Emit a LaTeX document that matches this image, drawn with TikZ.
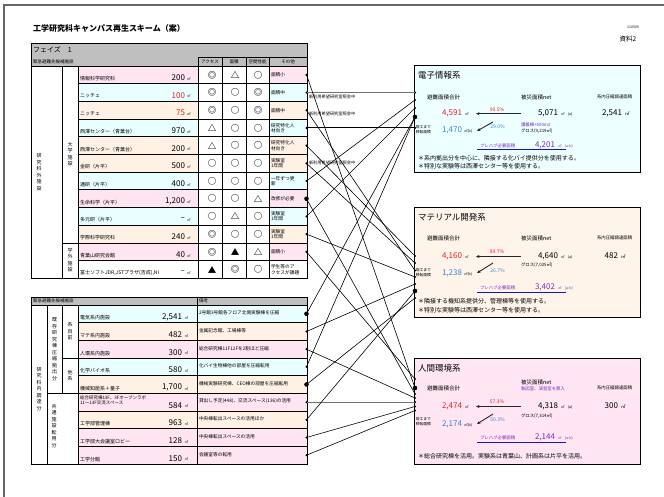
\documentclass[tikz,border=0pt]{standalone}
\usepackage{fontspec}
\setmainfont{Noto Sans CJK JP}
\usetikzlibrary{arrows.meta}
\definecolor{cpink}{HTML}{FFE5F1}
\definecolor{ccyan}{HTML}{E9FFFF}
\definecolor{cpeach}{HTML}{FFF2E5}
\definecolor{cred}{HTML}{E8202A}
\definecolor{cblue}{HTML}{3D7FE0}
\definecolor{cpurple}{HTML}{7A2FC0}
\definecolor{cline}{HTML}{1515C8}
\definecolor{cgray}{HTML}{BFBFBF}
\definecolor{cbox1}{HTML}{EEFFFF}
\definecolor{cbox2}{HTML}{FFF4EA}
\definecolor{cbox3}{HTML}{FFE6F2}
\tikzset{
 mytx/.style={inner sep=0pt, outer sep=0pt},
 mynm/.style={mytx, anchor=west, font=\fontsize{5}{6}\selectfont},
 myval/.style={mytx, anchor=east, font=\fontsize{8}{9}\selectfont},
 myunit/.style={mytx, anchor=west, font=\fontsize{3.5}{4}\selectfont},
 mysym/.style={mytx, font=\fontsize{8.5}{9}\selectfont\bfseries},
 myrem/.style={mytx, anchor=west, align=left, font=\fontsize{4.7}{5.4}\selectfont},
 myvt/.style={mytx, align=center, font=\fontsize{5}{6.5}\selectfont},
 mylab/.style={mytx, anchor=west, font=\fontsize{4.2}{4.6}\selectfont},
 myttl/.style={mytx, anchor=west, font=\fontsize{8.5}{10}\selectfont},
 myhd/.style={mytx, anchor=west, font=\fontsize{5.5}{6.5}\selectfont},
 mysm/.style={mytx, anchor=west, font=\fontsize{4.4}{5}\selectfont},
 mytiny/.style={mytx, anchor=west, align=left, font=\fontsize{3.8}{4.8}\selectfont},
 mybig/.style={mytx, anchor=east, font=\fontsize{8}{9}\selectfont},
 mypct/.style={mytx, font=\fontsize{5}{6}\selectfont},
 mynote/.style={mytx, anchor=west, font=\fontsize{6}{7}\selectfont},
 mydot/.style={circle, fill=black, inner sep=0pt, minimum size=2.4pt},
 mybdot/.style={circle, fill=black, inner sep=0pt, minimum size=4.6pt},
 myconn/.style={line width=0.6pt},
 mygconn/.style={line width=1.3pt, black!55},
 mygrid/.style={line width=0.8pt},
 myarr/.style={-{Stealth[length=3.5pt,width=3pt]}, line width=0.9pt, black!85},
 mybox/.style={line width=0.9pt},
}
% upper table row: idx, fill, name, value, s1, s2, s3, other
\newcommand\urow[8]{%
 \pgfmathsetmacro\rt{66+(#1-1)*17.7}%
 \pgfmathsetmacro\rb{\rt+17.7}%
 \pgfmathsetmacro\rc{\rt+8.85}%
 \fill[#2] (78,\rt) rectangle (198,\rb);
 \fill[#2] (269,\rt) rectangle (307,\rb);
 \node[mynm] (u#1n) at (80,\rt+12.5) {#3};
 \node[myval] (u#1v) at (185,\rt+11.5) {#4};
 \node[myunit] (u#1u) at (187,\rt+12.5) {㎡};
 \node[mysym] (u#1a) at (212,\rc) {#5};
 \node[mysym] (u#1b) at (235,\rc) {#6};
 \node[mysym] (u#1c) at (258,\rc) {#7};
 \node[myrem] (u#1o) at (271,\rc) {#8};
}
% lower table row: idx, fill, name, value, remark
\newcommand\lrow[5]{%
 \pgfmathsetmacro\rt{305+(#1-1)*17.67}%
 \pgfmathsetmacro\rb{\rt+17.67}%
 \pgfmathsetmacro\rc{\rt+8.83}%
 \fill[#2] (78,\rt) rectangle (307,\rb);
 \node[mynm] (l#1n) at (80,\rt+13) {#3};
 \node[myval] (l#1v) at (182,\rt+12) {#4};
 \node[myunit] (l#1u) at (184.5,\rt+13) {㎡};
 \node[myrem] (l#1r) at (199,\rc-0.8) {#5};
}
\begin{document}
\begin{tikzpicture}[x=1pt,y=-1pt]
\useasboundingbox (0,0) rectangle (664,497);
\fill[white] (0,0) rectangle (664,497);
% page frame
\draw[line width=1.6pt, black!60] (4,497) -- (4,5) -- (664,5);

% titles
\node[mytx, anchor=west, font=\fontsize{8}{9}\selectfont\bfseries] (title) at (33,28) {工学研究科キャンパス再生スキーム（案）};
\node[mytx, font=\fontsize{3.5}{4}\selectfont] (date) at (633,27) {110509};
\node[mytx, font=\fontsize{6.5}{7}\selectfont] (doc) at (628,39) {資料2};

% ===== upper table =====
\fill[cgray] (31,43) rectangle (307,66);
\node[mytx, anchor=west, font=\fontsize{7}{8}\selectfont] (ph) at (33,50) {フェイズ　1};
\node[mytx, anchor=west, font=\fontsize{4.5}{5}\selectfont] (uh0) at (33,61.5) {緊急避難先候補施設};
\node[mytx, font=\fontsize{4.5}{5}\selectfont] (uh1) at (210,61.5) {アクセス};
\node[mytx, font=\fontsize{4.5}{5}\selectfont] (uh2) at (234,61.5) {面積};
\node[mytx, font=\fontsize{4.5}{5}\selectfont] (uh3) at (257.5,61.5) {空間性能};
\node[mytx, font=\fontsize{4.5}{5}\selectfont] (uh4) at (288,61.5) {その他};

\urow{1}{cpink}{情報科学研究科}{200}{◎}{△}{○}{面積小}
\urow{2}{ccyan}{ニッチェ}{\textcolor{cred}{100}}{◎}{○}{◎}{面積中}
\urow{3}{cpeach}{ニッチェ}{\textcolor{cred}{75}}{◎}{○}{◎}{面積中}
\urow{4}{ccyan}{西澤センター（青葉台）}{970}{△}{○}{○}{研究特化人\\材向き}
\urow{5}{cpeach}{西澤センター（青葉台）}{200}{△}{○}{○}{研究特化人\\材向き}
\urow{6}{cpeach}{金研（片平）}{500}{○}{○}{○}{実験室\\1年間}
\urow{7}{ccyan}{通研（片平）}{400}{○}{○}{○}{一年ずつ更\\新}
\urow{8}{cpink}{生命科学（片平）}{1,200}{○}{○}{△}{改修が必要}
\urow{9}{ccyan}{多元研（片平）}{–}{○}{△}{○}{実験室\\1年間}
\urow{10}{cpeach}{学際科学研究科}{240}{◎}{○}{○}{実験室\\1年間}
\urow{11}{cpink}{青葉山研究会館}{40}{◎}{▲}{△}{面積小}
\urow{12}{white}{富士ソフトJDR,JSTプラザ(吉成),NI}{–}{▲}{◎}{○}{学生等のア\\クセスが課題}

\draw[mygrid] (31,43) rectangle (307,278.4);
\draw[mygrid] (31,66) -- (307,66);
\draw[mygrid] (198,57) -- (307,57);
\foreach \xx in {198,222,246,269} {\draw[mygrid] (\xx,57) -- (\xx,278.4);}
\foreach \xx in {62,78} {\draw[mygrid] (\xx,66) -- (\xx,278.4);}
\foreach \i in {1,...,11} {\pgfmathsetmacro\yy{66+\i*17.7}\draw[mygrid] (78,\yy) -- (307,\yy);}
\draw[mygrid] (62,243) -- (78,243);
\node[myvt] (uv1) at (39,172) {研\\究\\科\\外\\施\\設};
\node[myvt] (uv2) at (70,154) {大\\学\\施\\設};
\node[myvt] (uv3) at (70,260) {学\\外\\施\\設};

% ===== lower table =====
\fill[cgray] (31,297) rectangle (307,305);
\node[mytx, anchor=west, font=\fontsize{4.5}{5}\selectfont] (lh0) at (33,301) {緊急避難先候補施設};
\node[mytx, anchor=west, font=\fontsize{4.5}{5}\selectfont] (lh1) at (199,301) {備考};

\lrow{1}{ccyan}{電気系内施設}{2,541}{2号館3号館各フロア北側実験棟を圧縮}
\lrow{2}{cpeach}{マテ系内施設}{482}{金属記念館、工場棟等}
\lrow{3}{cpink}{人環系内施設}{300}{総合研究棟11F12Fを2割ほど圧縮}
\lrow{4}{ccyan}{化学バイオ系}{580}{化バイ生物棟他の部屋を圧縮転用}
\lrow{5}{cpeach}{機械知能系＋量子}{1,700}{機械実験研究棟、CEO棟の部屋を圧縮転用}
\lrow{6}{cpink}{}{584}{貸出し予定(448)、交流スペース(136)の活用}
\lrow{7}{cpeach}{工学部管理棟}{963}{中央棟転出スペースの活用ほか}
\lrow{8}{cpink}{工学部大会議室ロビー}{128}{中央棟転出スペースの活用}
\lrow{9}{cpink}{工学分館}{150}{会議室等の転用}
\node[mytx, anchor=north west, align=left, font=\fontsize{4.5}{5}\selectfont] (l6n) at (80,395.5) {総合研究棟13F、3Fオープンラボ\\11～13F交流スペース};

\draw[mygrid] (31,297) rectangle (307,464);
\draw[mygrid] (31,305) -- (307,305);
\draw[mygrid] (47,305) -- (47,464);
\draw[mygrid] (62,305) -- (62,393.35);
\draw[mygrid] (78,305) -- (78,464);
\draw[mygrid] (197,297) -- (197,464);
\foreach \i in {1,...,8} {\pgfmathsetmacro\yy{305+\i*17.67}\draw[mygrid] (78,\yy) -- (307,\yy);}
\draw[mygrid] (62,358) -- (78,358);
\draw[mygrid] (47,393.35) -- (78,393.35);
\node[myvt] (lv1) at (39,389) {研\\究\\科\\内\\調\\達\\分};
\node[myvt] (lv2) at (54.5,349) {既\\存\\研\\究\\棟\\圧\\縮\\拠\\出\\分};
\node[myvt] (lv3) at (70,331.5) {系\\自\\前};
\node[myvt] (lv4) at (70,375.5) {他\\系};
\node[myvt] (lv5) at (54,426) {共\\通\\施\\設\\転\\用\\分};

% ===== right boxes =====
\draw[mybox, fill=cbox1] (414,65) rectangle (640,172);
\draw[mybox, fill=cbox2] (414,207) rectangle (640,317);
\draw[mybox, fill=cbox3] (414,358) rectangle (640,464);

% box 1
\node[myttl] (t1) at (418,75) {電子情報系};
\node[myhd] (h1a) at (427,97) {避難面積合計};
\node[myhd] (h1b) at (521,97) {被災面積net};
\node[mysm] (h1c) at (597,97) {系内圧縮調達面積};
\node[mybig, text=cred] (v1a) at (462,113) {4,591};
\node[myunit] (v1au) at (465,114) {㎡};
\node[mypct, text=cred] (p1a) at (497,109.5) {90.5\%};
\coordinate (a1s) at (521,113.7);
\coordinate (a1e) at (476,113.7);
\draw[myarr] (a1s) -- (a1e);
\node[mybig] (v1b) at (558,113) {5,071};
\node[myunit] (v1bu) at (561,114) {㎡\quad(a)};
\node[mybig] (v1c) at (622,113) {2,541};
\node[mytx, anchor=west, font=\fontsize{4.5}{5}\selectfont] (v1cu) at (625,113.5) {㎡};
\node[mytiny] (m1) at (415.8,129.5) {竣工まで\\移転面積};
\node[mybig, text=cblue] (v1d) at (462,130) {1,470};
\node[myunit] (v1du) at (464,131) {㎡(b)};
\coordinate (a1t) at (493,122);
\coordinate (a1u) at (477,131);
\draw[myarr] (a1t) -- (a1u);
\node[mypct, text=cblue] (p1b) at (497.5,127) {29.0\%};
\node[mysm, text=cpurple] (g1a) at (521,125) {講義棟+600m2};
\node[mysm] (g1b) at (521,131) {グロス(9,219㎡)};
\node[mysm, text=cpurple] (f1a) at (480,146) {プレハブ必要面積};
\node[mybig, text=cpurple] (f1b) at (555,145.5) {4,201};
\node[myunit, text=cpurple] (f1c) at (558,146) {㎡\quad(a-b)};
\coordinate (ul1s) at (477,149.5);
\coordinate (ul1e) at (566,149.5);
\draw[cline, line width=0.9pt] (ul1s) -- (ul1e);
\node[mynote] (n1a) at (418,158) {＊系内拠出分を中心に、隣接する化バイ提供分を使用する。};
\node[mynote] (n1b) at (418,166) {＊特別な実験等は西澤センター等を使用する。};

% box 2
\node[myttl] (t2) at (418,217) {マテリアル開発系};
\node[myhd] (h2a) at (427,238) {避難面積合計};
\node[myhd] (h2b) at (521,238) {被災面積net};
\node[mysm] (h2c) at (597,238) {系内圧縮調達面積};
\node[mybig, text=cred] (v2a) at (462,256) {4,160};
\node[myunit] (v2au) at (465,257) {㎡};
\node[mypct, text=cred] (p2a) at (497,252) {89.7\%};
\coordinate (a2s) at (521,256.5);
\coordinate (a2e) at (476,256.5);
\draw[myarr] (a2s) -- (a2e);
\node[mybig] (v2b) at (558,256) {4,640};
\node[myunit] (v2bu) at (561,257) {㎡\quad(a)};
\node[mybig] (v2c) at (618,256) {482};
\node[mytx, anchor=west, font=\fontsize{4.5}{5}\selectfont] (v2cu) at (621,256.5) {㎡};
\node[mysm] (g2b) at (521,265) {グロス(7,025㎡)};
\node[mytiny] (m2) at (415.8,272.5) {竣工まで\\移転面積};
\node[mybig, text=cblue] (v2d) at (462,273) {1,238};
\node[myunit] (v2du) at (464,274) {㎡(b)};
\coordinate (a2t) at (493,263);
\coordinate (a2u) at (477,273);
\draw[myarr] (a2t) -- (a2u);
\node[mypct, text=cblue] (p2b) at (497.5,270.5) {26.7\%};
\node[mysm, text=cpurple] (f2a) at (480,288) {プレハブ必要面積};
\node[mybig, text=cpurple] (f2b) at (555,287.5) {3,402};
\node[myunit, text=cpurple] (f2c) at (558,288) {㎡\quad(a-b)};
\coordinate (ul2s) at (477,292);
\coordinate (ul2e) at (566,292);
\draw[cline, line width=0.9pt] (ul2s) -- (ul2e);
\node[mynote] (n2a) at (418,301) {＊隣接する機知系提供分、管理棟等を使用する。};
\node[mynote] (n2b) at (418,310) {＊特別な実験等は西澤センター等を使用する。};

% box 3
\node[myttl] (t3) at (418,368) {人間環境系};
\node[myhd] (h3a) at (427,388) {避難面積合計};
\node[myhd] (h3b) at (521,382.5) {被災面積net};
\node[mysm, text=cpurple] (h3d) at (521,388.5) {製図室、演習室を算入};
\node[mysm] (h3c) at (597,388) {系内圧縮調達面積};
\node[mybig, text=cred] (v3a) at (462,406) {2,474};
\node[myunit] (v3au) at (465,407) {㎡};
\node[mypct, text=cred] (p3a) at (497,402) {57.3\%};
\coordinate (a3s) at (521,406.5);
\coordinate (a3e) at (476,406.5);
\draw[myarr] (a3s) -- (a3e);
\node[mybig] (v3b) at (558,406) {4,318};
\node[myunit] (v3bu) at (561,407) {㎡\quad(a)};
\node[mybig] (v3c) at (618,406) {300};
\node[mytx, anchor=west, font=\fontsize{4.5}{5}\selectfont] (v3cu) at (621,406.5) {㎡};
\node[mysm] (g3b) at (521,416) {グロス(7,314㎡)};
\node[mytiny] (m3) at (415.8,421.5) {竣工まで\\移転面積};
\node[mybig, text=cblue] (v3d) at (462,424) {2,174};
\node[myunit] (v3du) at (464,425) {㎡(b)};
\coordinate (a3t) at (493,414);
\coordinate (a3u) at (477,424);
\draw[myarr] (a3t) -- (a3u);
\node[mypct, text=cblue] (p3b) at (497.5,420) {50.3\%};
\node[mysm, text=cpurple] (f3a) at (480,438) {プレハブ必要面積};
\node[mybig, text=cpurple] (f3b) at (555,437.5) {2,144};
\node[myunit, text=cpurple] (f3c) at (558,438) {㎡\quad(a-b)};
\coordinate (ul3s) at (477,442);
\coordinate (ul3e) at (566,442);
\draw[cline, line width=0.9pt] (ul3s) -- (ul3e);
\node[mynote] (n3a) at (418,456) {＊総合研究棟を活用。実験系は青葉山、計画系は片平を活用。};

% ===== small labels near left dots =====
\node[mylab] (k1) at (309,96.5) {新利用希望研究室照会中};
\node[mylab] (k2) at (309,113.5) {新利用希望研究室照会中};
\node[mylab] (k3) at (309,163.4) {新利用希望研究室照会中};

% ===== dots =====
\node[mydot] (u1d) at (306.5,74.85) {};
\node[mydot] (u2d) at (306.5,92.55) {};
\node[mydot] (u3d) at (306.5,110.25) {};
\node[mydot] (u4d) at (306.5,127.95) {};
\node[mydot] (u5d) at (306.5,145.65) {};
\node[mydot] (u6d) at (306.5,163.35) {};
\node[mydot] (u7d) at (306.5,181.05) {};
\node[mybdot] (u8d) at (306.5,198.75) {};
\node[mydot] (u9d) at (306.5,216.45) {};
\node[mydot] (u10d) at (306.5,234.15) {};
\node[mydot] (u11d) at (306.5,251.85) {};
\node[mybdot] (l1d) at (306.5,313.8) {};
\node[mydot] (l2d) at (306.5,331.5) {};
\node[mydot] (l3d) at (306.5,349.2) {};
\node[mydot] (l4d) at (306.5,366.8) {};
\node[mybdot] (l5d) at (306.5,384.5) {};
\node[mydot] (l6d) at (306.5,402.2) {};
\node[mydot] (l7d) at (306.5,419.8) {};
\node[mydot] (l8d) at (306.5,437.5) {};
\node[mydot] (l9d) at (306.5,455.2) {};

\node[mydot] (b1a) at (415,92.55) {};
\node[mydot] (b1b) at (415,100) {};
\node[mydot] (b1c) at (415,108) {};
\node[mybdot] (b1d) at (415,117) {};
\node[mydot] (b1e) at (415,127.95) {};
\node[mydot] (b2a) at (415,256) {};
\node[mydot] (b2b) at (415,263) {};
\node[mydot] (b2c) at (415,270.5) {};
\node[mydot] (b2d) at (415,277) {};
\node[mydot] (b2e) at (415,284) {};
\node[mybdot] (b2f) at (415,291) {};
\node[mydot] (b2g) at (415,298) {};
\node[mydot] (b3a) at (415,379) {};
\node[mybdot] (b3b) at (415,388) {};
\node[mydot] (b3c) at (415,394) {};
\node[mydot] (b3d) at (415,398) {};
\node[mydot] (b3e) at (415,402.2) {};
\node[mydot] (b3f) at (415,406.5) {};
\node[mydot] (b3g) at (415,410.5) {};

% ===== connectors =====
\draw[mygconn] (u2d.center) -- (b1a.center);
\draw[myconn, line width=0.9pt] (u4d.center) -- (b1e.center);
\draw[mygconn] (l6d.center) -- (b3e.center);
\draw[myconn] (u1d.center) -- (b3b.center);
\draw[myconn] (u3d.center) -- (b2c.center);
\draw[myconn] (u5d.center) -- (b2a.center);
\draw[myconn] (u6d.center) -- (b2b.center);
\draw[myconn] (u7d.center) -- (b1b.center);
\draw[myconn] (u8d.center) -- (b3c.center);
\draw[myconn] (u9d.center) -- (b1c.center);
\draw[myconn] (u10d.center) -- (b2d.center);
\draw[myconn] (u11d.center) -- (b3a.center);
\draw[myconn] (l1d.center) -- (b1d.center);
\draw[myconn] (l2d.center) -- (b2e.center);
\draw[myconn] (l3d.center) -- (b3d.center);
\draw[myconn] (l4d.center) -- (b1d.center);
\draw[myconn] (l5d.center) -- (b2g.center);
\draw[myconn] (l7d.center) -- (b2f.center);
\draw[myconn] (l8d.center) -- (b3f.center);
\draw[myconn] (l9d.center) -- (b3g.center);
\end{tikzpicture}
\end{document}
